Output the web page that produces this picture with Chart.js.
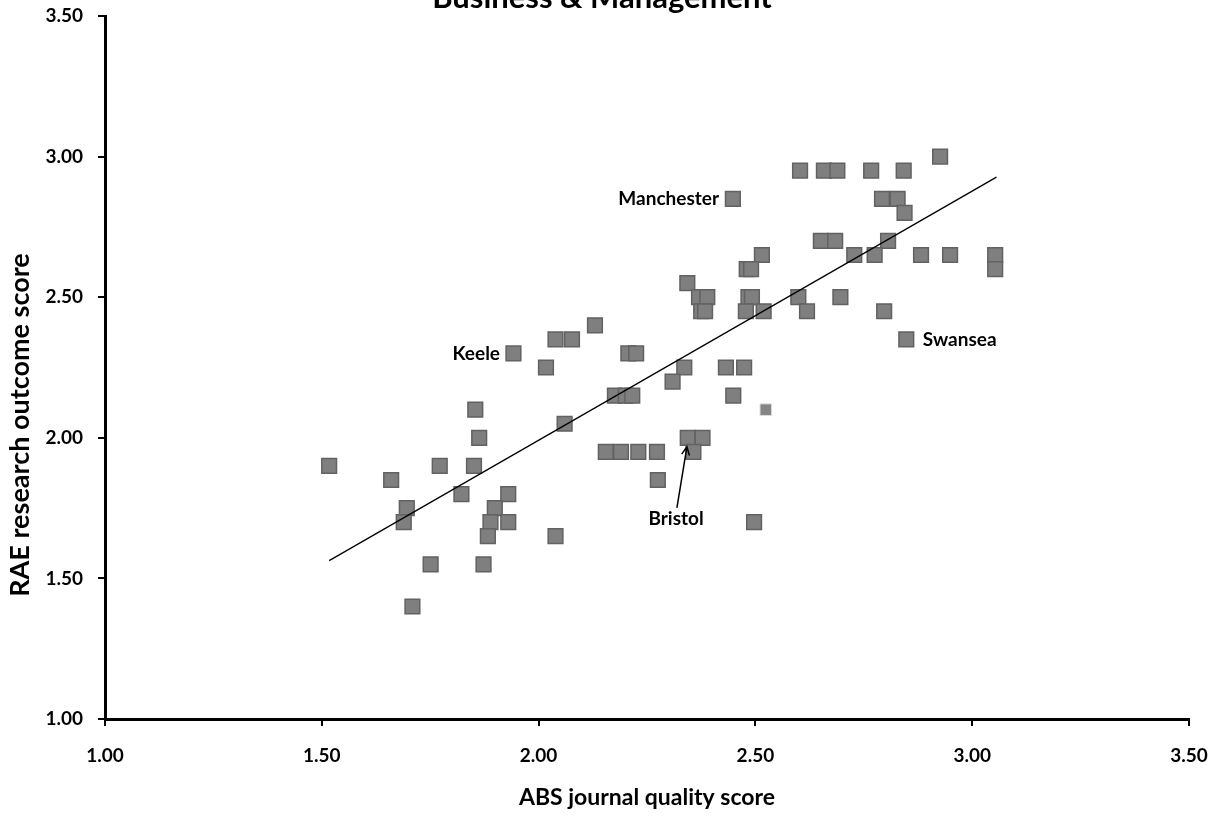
<!DOCTYPE html>
<html lang="en">
<head>
<meta charset="UTF-8" />
<title>Business &amp; Management</title>
<script src="https://cdn.jsdelivr.net/npm/chart.js@4.4.1/dist/chart.umd.min.js"></script>
<style>
  html, body { margin: 0; padding: 0; background: #fff; }
</style>
</head>
<body>
<canvas id="myChart" width="1222" height="816"></canvas>
<script>
// ABS journal quality score (x) and RAE outcome score (y), one entry per department
const absScore = [2.926, 2.603, 2.658, 2.689, 2.767, 2.842, 2.448, 2.792, 2.828, 2.844,
  2.651, 2.684, 2.806, 2.515, 2.728, 2.775, 2.882, 2.949, 3.053, 2.480,
  2.490, 3.053, 2.343, 2.370, 2.389, 2.484, 2.492, 2.599, 2.696, 2.375,
  2.384, 2.478, 2.519, 2.619, 2.797, 2.130, 2.039, 2.077, 2.848, 1.942,
  2.207, 2.225, 2.017, 2.336, 2.432, 2.474, 2.309, 2.176, 2.201, 2.216,
  2.449, 1.854, 2.060, 1.863, 2.344, 2.378, 2.155, 2.190, 2.230, 2.273,
  2.357, 1.517, 1.772, 1.851, 1.660, 2.275, 1.822, 1.930, 1.696, 1.899,
  1.689, 1.889, 1.930, 2.497, 1.883, 2.039, 1.751, 1.873, 1.709];
const raeScore = [3.00, 2.95, 2.95, 2.95, 2.95, 2.95, 2.85, 2.85, 2.85, 2.80,
  2.70, 2.70, 2.70, 2.65, 2.65, 2.65, 2.65, 2.65, 2.65, 2.60,
  2.60, 2.60, 2.55, 2.50, 2.50, 2.50, 2.50, 2.50, 2.50, 2.45,
  2.45, 2.45, 2.45, 2.45, 2.45, 2.40, 2.35, 2.35, 2.35, 2.30,
  2.30, 2.30, 2.25, 2.25, 2.25, 2.25, 2.20, 2.15, 2.15, 2.15,
  2.15, 2.10, 2.05, 2.00, 2.00, 2.00, 1.95, 1.95, 1.95, 1.95,
  1.95, 1.90, 1.90, 1.90, 1.85, 1.85, 1.80, 1.80, 1.75, 1.75,
  1.70, 1.70, 1.70, 1.70, 1.65, 1.65, 1.55, 1.55, 1.40];

// the one smaller marker
const oddAbs = [2.524];
const oddRae = [2.10];

// fitted line end points
const trendAbs = [1.517, 3.056];
const trendRae = [1.563, 2.927];

const tickValues = [1.0, 1.5, 2.0, 2.5, 3.0, 3.5];

// named departments: label anchor in data units
const labelNames = ["Keele", "Manchester", "Swansea", "Bristol"];
const labelAbs = [1.911, 2.416, 2.886, 2.317];
const labelRae = [2.30, 2.85, 2.35, 1.712];
const labelAlign = ["right", "right", "left", "center"];

// Bristol arrow, tail -> head
const arrowAbs = [2.319, 2.342];
const arrowRae = [1.751, 1.968];

const FONT = 'Lato, "Liberation Sans", sans-serif';

function toPoints(xs, ys) {
  return xs.map((x, i) => ({ x: x, y: ys[i] }));
}

const extras = {
  id: 'extras',
  afterDatasetsDraw(chart) {
    const c = chart.ctx;
    const sx = chart.scales.x, sy = chart.scales.y;
    c.save();
    c.fillStyle = '#000';
    c.font = 'bold 19px ' + FONT;
    c.textBaseline = 'middle';
    labelNames.forEach((name, i) => {
      c.textAlign = labelAlign[i];
      c.fillText(name, sx.getPixelForValue(labelAbs[i]), sy.getPixelForValue(labelRae[i]));
    });

    // arrow
    const x0 = sx.getPixelForValue(arrowAbs[0]), y0 = sy.getPixelForValue(arrowRae[0]);
    const x1 = sx.getPixelForValue(arrowAbs[1]), y1 = sy.getPixelForValue(arrowRae[1]);
    const ang = Math.atan2(y1 - y0, x1 - x0);
    c.strokeStyle = '#000';
    c.lineWidth = 1.5;
    c.beginPath();
    c.moveTo(x0, y0);
    c.lineTo(x1, y1);
    c.moveTo(x1 - 9 * Math.cos(ang - 0.45), y1 - 9 * Math.sin(ang - 0.45));
    c.lineTo(x1, y1);
    c.lineTo(x1 - 9 * Math.cos(ang + 0.45), y1 - 9 * Math.sin(ang + 0.45));
    c.stroke();

    // y axis title (sits below the axis centre in the original)
    c.save();
    c.translate(20, 425);
    c.rotate(-Math.PI / 2);
    c.textAlign = 'center';
    c.font = 'bold 27px ' + FONT;
    c.fillText('RAE research outcome score', 0, 0);
    c.restore();

    // chart title, mostly cut off by the top edge
    c.textAlign = 'center';
    c.textBaseline = 'alphabetic';
    c.font = 'bold 31px ' + FONT;
    c.fillText('Business & Management', 602, 7.5);
    c.restore();
  }
};

const ctx = document.getElementById('myChart').getContext('2d');
const chart = new Chart(ctx, {
  type: 'scatter',
  data: {
    datasets: [
      {
        type: 'line',
        label: 'Trend',
        data: toPoints(trendAbs, trendRae),
        borderColor: '#000',
        borderWidth: 1.3,
        pointRadius: 0,
        pointHoverRadius: 0,
        fill: false,
        order: 0
      },
      {
        label: 'Departments',
        data: toPoints(absScore, raeScore),
        pointStyle: 'rect',
        pointRadius: 10.4,
        pointHoverRadius: 10.4,
        backgroundColor: '#7f7f7f',
        borderColor: '#626262',
        borderWidth: 1.5,
        order: 1
      },
      {
        label: 'Other',
        data: toPoints(oddAbs, oddRae),
        pointStyle: 'rect',
        pointRadius: 8.2,
        pointHoverRadius: 8.2,
        backgroundColor: '#858585',
        borderColor: '#dddddd',
        borderWidth: 1,
        order: 1
      }
    ]
  },
  options: {
    responsive: false,
    animation: false,
    layout: { padding: { top: 16, right: 33, left: 0, bottom: 0 } },
    plugins: {
      legend: { display: false },
      tooltip: { enabled: false }
    },
    scales: {
      x: {
        type: 'linear',
        min: 1, max: 3.5,
        afterFit: s => { s.height = 97; s.paddingLeft = 0; s.paddingRight = 0; },
        afterBuildTicks: s => { s.ticks = tickValues.map(v => ({ value: v })); },
        ticks: {
          callback: v => Number(v).toFixed(2),
          color: '#000',
          font: { family: FONT, size: 19, weight: 'bold' },
          padding: 18,
          maxRotation: 0
        },
        grid: { drawOnChartArea: false, tickLength: 7, color: '#000', lineWidth: 2 },
        border: { color: '#000', width: 3 },
        title: {
          display: true,
          text: 'ABS journal quality score',
          color: '#000',
          font: { family: FONT, size: 23, weight: 'bold' },
          padding: { top: 0, bottom: 5 }
        }
      },
      y: {
        type: 'linear',
        min: 1, max: 3.5,
        afterFit: s => { s.width = 105; s.paddingTop = 0; s.paddingBottom = 0; },
        afterBuildTicks: s => { s.ticks = tickValues.map(v => ({ value: v })); },
        ticks: {
          callback: v => Number(v).toFixed(2),
          color: '#000',
          font: { family: FONT, size: 19, weight: 'bold' },
          padding: 15
        },
        grid: { drawOnChartArea: false, tickLength: 7, color: '#000', lineWidth: 2 },
        border: { color: '#000', width: 3 }
      }
    }
  },
  plugins: [extras]
});
</script>
</body>
</html>
